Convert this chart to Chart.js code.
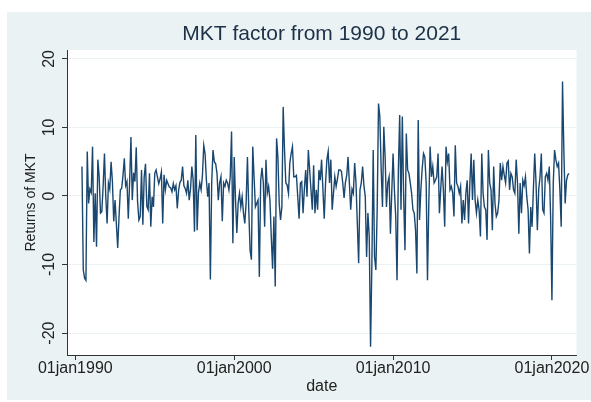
<!DOCTYPE html>
<html>
<head>
<meta charset="utf-8">
<script src="https://cdn.jsdelivr.net/npm/chart.js@4.4.0/dist/chart.umd.min.js"></script>
<style>
  html, body { margin: 0; padding: 0; background: #ffffff; }
  #wrap { width: 591px; height: 402px; }
</style>
</head>
<body>
<div id="wrap"><canvas id="mktChart" width="591" height="402"></canvas></div>
<script>
// monthly returns of the MKT factor (%), first observation Jun 1990
const firstMonth = 5; // months after Jan 1990

const returns1990s = [
  4.3, -10.8, -12.0, -12.3, 6.5, -1.1, 1.0, 0.5, 7.2, -6.7, 0.4, -7.4, 5.3, 2.8, -2.5,
  -2.3, 1.5, 6.2, -0.1, -4.0, 1.9, 1.0, 5.0, 2.1, -3.7, -0.6, -4.1, -7.6, -3.0, 0.9,
  1.1, 3.0, 5.5, 1.5, 2.1, -3.3, 2.0, 8.6, -0.6, 3.4, 2.1, 7.1, -0.8, -3.5, -3.0,
  3.8, -4.2, 2.8, 4.7, -1.5, -2.0, 3.3, -4.5, -0.1, -1.6, 3.3, 3.8, 2.8, 1.8, 2.5,
  3.5, -4.0, 3.1, 0.9, 2.3, 1.8, 1.3, 1.2, 0.6, 1.8, 0.9, 1.5, -1.8, 0.8, 2.0,
  2.3, 4.3, 1.5, 1.1, 0.4, 2.3, -0.6, 1.0, 4.3, 2.3, -5.2, 8.9, -5.0, 0.5, 1.9,
  0.9, 3.0, 7.4, 6.2, 2.3, -0.1, 1.9, -12.2, 1.9, 6.7, 5.0, 4.7, 3.3, -0.6, 1.9,
  2.8, -3.7, 1.9, 1.4, 2.3, 1.9, 0.9, 2.8, 9.4, -6.9
];

const returns2000s = [
  5.7, -0.6, -5.4, -1.0, 0.4, -1.6, -0.1, -2.5, -4.0, -1.0, 5.7, -2.0, -7.9, -9.3, 7.2,
  2.8, -1.6, -1.1, -0.6, -11.8, 2.3, 4.1, 1.9, -4.5, 5.3, 0.4, 1.4, -0.6, -5.9, -10.6,
  -3.0, -13.2, 8.4, 5.7, -1.1, -3.5, -1.6, 13.0, 6.7, 1.9, 1.6, 0.4, 4.8, 6.2, 7.2,
  2.8, 2.8, 3.0, -0.1, -3.3, 1.9, 2.1, -2.5, 1.0, 3.8, -0.1, 6.7, 3.8, 0.9, -2.0,
  4.5, -2.5, 0.9, -2.0, 3.8, 2.3, 5.3, 1.0, -3.3, 1.9, 5.3, 6.5, 1.9, 5.3, -2.0,
  0.4, 2.8, 1.4, 2.5, 3.8, 3.8, 3.6, 1.9, -0.3, 2.0, 3.0, 5.7, 1.9, -2.0, 1.0,
  0.4, 4.8, 1.9, -4.0, -9.8, 0.9, 1.9, 4.3, 1.5, -0.1, -8.9, -2.5, -5.9, -22.0, -9.8,
  6.7, -8.9, -10.8, -2.0, 13.5, 11.6, 4.0, -1.6, 10.1, 5.7, -1.6, 1.9, 2.8, -5.5, 0.5
];

const returns2010s = [
  6.2, 0.9, -3.0, -12.3, 3.8, 11.8, -2.0, 11.6, -0.1, -7.9, 9.1, 3.8, 3.3, 1.9, 0.4,
  -2.0, -2.5, -5.0, -11.3, 11.1, -3.5, 0.9, 4.0, 6.2, 5.7, 1.9, -12.3, -1.1, 7.2, 2.8,
  4.3, 1.9, 2.3, 2.8, 6.2, -2.5, 1.0, 4.3, 0.9, -4.5, 7.2, 5.0, 6.2, 0.9, 1.4,
  0.5, -3.0, 7.4, 1.9, 1.4, 0.4, 1.4, -4.0, -0.6, -3.5, 0.4, 2.3, -4.0, 1.9, 6.2,
  -0.6, 5.3, -0.6, -2.5, -0.6, -2.0, -5.9, 6.2, 0.4, -1.6, -2.0, -6.4, 6.7, 1.9, 0.9,
  -5.0, 4.3, -1.1, -3.0, -2.5, -0.6, 4.8, 2.3, 4.3, 3.0, 1.9, 4.8, 5.1, 0.9, 3.3,
  2.8, 0.9, 0.4, 5.3, 1.9, -5.5, 1.9, -2.5, 2.3, 1.5, 2.8, -0.1, -2.0, -8.4, -1.6,
  -4.5, 1.0, 6.2, 1.9, -5.0, 0.9, 2.8, 6.2, -2.0, -2.5, 2.8, 3.3, 2.3, 4.3, -3.0
];

const returns2020s = [
  -15.2, 1.9, 6.7, 5.3, 4.3, 4.8, 0.9, -4.5, 16.7, 6.7, -1.1, 2.3, 3.1, 3.3
];

// date axis: months since Jan 1990
const tickMonths = [0, 120, 240, 360];
const tickLabels = ['01jan1990', '01jan2000', '01jan2010', '01jan2020'];
const yTicks = [-20, -10, 0, 10, 20];

const allReturns = [...returns1990s, ...returns2000s, ...returns2010s, ...returns2020s];
const points = allReturns.map((v, i) => ({ x: firstMonth + i, y: v }));

const fontFamily = '"Liberation Sans", Arial, sans-serif';
const panelColor = '#eaf2f3';
const inkColor = '#222222';

// grey outer panel with a white plot region
const panelBackground = {
  id: 'panelBackground',
  beforeDraw(chart) {
    const { ctx, chartArea: a } = chart;
    ctx.save();
    ctx.fillStyle = '#ffffff';
    ctx.fillRect(0, 0, chart.width, chart.height);
    ctx.fillStyle = panelColor;
    ctx.fillRect(7, 12, chart.width - 7, 388);
    ctx.fillStyle = '#ffffff';
    ctx.fillRect(a.left, a.top, a.right - a.left, a.bottom - a.top);
    ctx.restore();
  }
};

// y tick labels are written vertically, like the axis title
const verticalYLabels = {
  id: 'verticalYLabels',
  afterDraw(chart) {
    const { ctx } = chart;
    const s = chart.scales.y;
    ctx.save();
    ctx.font = '16px ' + fontFamily;
    ctx.fillStyle = inkColor;
    ctx.textAlign = 'center';
    ctx.textBaseline = 'middle';
    yTicks.forEach(v => {
      ctx.save();
      ctx.translate(50, s.getPixelForValue(v));
      ctx.rotate(-Math.PI / 2);
      ctx.fillText(String(v), 0, 0);
      ctx.restore();
    });
    ctx.restore();
  }
};

new Chart(document.getElementById('mktChart').getContext('2d'), {
  type: 'line',
  data: {
    datasets: [{
      label: 'MKT',
      data: points,
      borderColor: '#1a476f',
      borderWidth: 1.4,
      pointRadius: 0,
      tension: 0,
      fill: false
    }]
  },
  options: {
    responsive: false,
    animation: false,
    devicePixelRatio: 1,
    layout: { padding: { left: 0, right: 6, top: 12, bottom: 0 } },
    plugins: {
      legend: { display: false },
      tooltip: { enabled: false },
      title: {
        display: true,
        text: 'MKT factor from 1990 to 2021',
        fullSize: false,
        color: '#1c3048',
        font: { family: fontFamily, size: 21, weight: 'normal', lineHeight: 1 },
        padding: { top: 12, bottom: 5 }
      }
    },
    scales: {
      x: {
        type: 'linear',
        min: -6.3,
        max: 378.6,
        afterBuildTicks: s => { s.ticks = tickMonths.map(v => ({ value: v })); },
        afterFit: s => { s.height = 47; },
        ticks: {
          autoSkip: false,
          maxRotation: 0,
          padding: 1,
          color: inkColor,
          font: { family: fontFamily, size: 16, lineHeight: 1 },
          callback: v => tickLabels[tickMonths.indexOf(v)]
        },
        grid: { drawOnChartArea: false, tickLength: 5, tickColor: '#333333' },
        border: { color: '#333333', width: 1 },
        title: {
          display: true,
          text: 'date',
          color: inkColor,
          font: { family: fontFamily, size: 16, lineHeight: 1 },
          padding: { top: 0, bottom: 7 }
        }
      },
      y: {
        min: -23.2,
        max: 21.3,
        afterBuildTicks: s => { s.ticks = yTicks.map(v => ({ value: v })); },
        afterFit: s => { s.width = 67; },
        ticks: { display: false },
        grid: { color: panelColor, lineWidth: 1, tickLength: 5, tickColor: '#333333' },
        border: { color: '#333333', width: 1 },
        title: {
          display: true,
          text: 'Returns of MKT',
          color: inkColor,
          font: { family: fontFamily, size: 14, lineHeight: 1 },
          padding: { top: 24, bottom: 0 }
        }
      }
    }
  },
  plugins: [panelBackground, verticalYLabels]
});
</script>
</body>
</html>
